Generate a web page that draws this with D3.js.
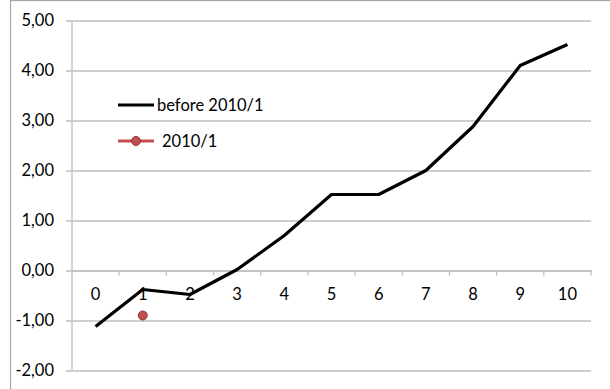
<!DOCTYPE html>
<html>
<head>
<meta charset="utf-8">
<script src="https://cdn.jsdelivr.net/npm/d3@7/dist/d3.min.js"></script>
<style>
  html, body { margin: 0; padding: 0; background: #fff; }
  svg { display: block; }
  text { font-family: Lato, "Open Sans", sans-serif; fill: #000; }
</style>
</head>
<body>
<svg id="chart" width="610" height="389"></svg>
<script>
// Categories along the x axis
const categories = ["0", "1", "2", "3", "4", "5", "6", "7", "8", "9", "10"];
// Series "before 2010/1"
const beforeValues = [-1.12, -0.38, -0.48, 0.02, 0.70, 1.52, 1.52, 2.00, 2.88, 4.10, 4.52];
// Series "2010/1": a single observation at category "1"
const point2010 = [{ cat: "1", value: -0.90 }];
// Value axis ticks
const yTicks = [-2, -1, 0, 1, 2, 3, 4, 5];

const svg = d3.select("#chart");
const W = 610, H = 389;
const plot = { left: 72, right: 591, top: 20.5, bottom: 370.5 };

// Chart frame
svg.append("rect")
  .attr("x", 10.5).attr("y", 0.5)
  .attr("width", W + 10).attr("height", H + 10)
  .attr("fill", "#fff").attr("stroke", "#a6a6a6").attr("stroke-width", 1.2);

const x = d3.scaleBand().domain(categories).range([plot.left, plot.right]).padding(0);
const y = d3.scaleLinear().domain([-2, 5]).range([plot.bottom, plot.top]);

const fmt = v => d3.format(".2f")(v).replace(".", ",").replace("−", "-");

// Horizontal gridlines with value labels on the left
const yAxis = d3.axisLeft(y).tickValues(yTicks).tickSize(plot.right - plot.left + 6)
  .tickFormat(fmt).tickPadding(12);
const gy = svg.append("g").attr("transform", `translate(${plot.right},0)`).call(yAxis);
gy.select(".domain").remove();
gy.selectAll(".tick line").attr("stroke", "#bfbfbf").attr("stroke-width", 1.3);
gy.selectAll(".tick text").attr("font-size", 16.5).style("font-family", "Lato, sans-serif");

// Vertical value axis line
svg.append("line")
  .attr("x1", plot.left).attr("x2", plot.left)
  .attr("y1", plot.top).attr("y2", plot.bottom)
  .attr("stroke", "#bfbfbf").attr("stroke-width", 1.3);

// Category axis sitting on the zero line, ticks between categories
const xAxis = d3.axisBottom(x).tickSize(0).tickPadding(18);
const gx = svg.append("g").attr("transform", `translate(0,${y(0)})`).call(xAxis);
gx.select(".domain").attr("stroke", "#bfbfbf").attr("stroke-width", 1.3);
gx.selectAll(".tick text").attr("font-size", 16.5).style("font-family", "Lato, sans-serif");
const bounds = categories.map(c => x(c) + x.bandwidth());
gx.selectAll(".sep").data(bounds).join("line")
  .attr("class", "sep")
  .attr("x1", d => d).attr("x2", d => d)
  .attr("y1", 0).attr("y2", 5)
  .attr("stroke", "#bfbfbf").attr("stroke-width", 1.3);

// Line series
const line = d3.line()
  .x((d, i) => x(categories[i]) + x.bandwidth() / 2)
  .y(d => y(d));
svg.append("path")
  .datum(beforeValues)
  .attr("d", line)
  .attr("fill", "none")
  .attr("stroke", "#000")
  .attr("stroke-width", 3.2)
  .attr("stroke-linejoin", "round");

// Single-point series
svg.selectAll(".pt").data(point2010).join("circle")
  .attr("class", "pt")
  .attr("cx", d => x(d.cat) + x.bandwidth() / 2)
  .attr("cy", d => y(d.value))
  .attr("r", 4.5)
  .attr("fill", "#c0504d")
  .attr("stroke", "#8c3836")
  .attr("stroke-width", 1);

// Legend
const legend = svg.append("g");
legend.append("line")
  .attr("x1", 118).attr("x2", 154).attr("y1", 105).attr("y2", 105)
  .attr("stroke", "#000").attr("stroke-width", 3.2);
legend.append("text")
  .attr("x", 157).attr("y", 105).attr("dy", "0.35em")
  .attr("font-size", 16.5).text("before 2010/1");
legend.append("line")
  .attr("x1", 118).attr("x2", 154).attr("y1", 141).attr("y2", 141)
  .attr("stroke", "#c0504d").attr("stroke-width", 3.2);
legend.append("circle")
  .attr("cx", 136).attr("cy", 141).attr("r", 4.5)
  .attr("fill", "#c0504d").attr("stroke", "#8c3836").attr("stroke-width", 1);
legend.append("text")
  .attr("x", 162).attr("y", 141).attr("dy", "0.35em")
  .attr("font-size", 16.5).text("2010/1");
</script>
</body>
</html>
